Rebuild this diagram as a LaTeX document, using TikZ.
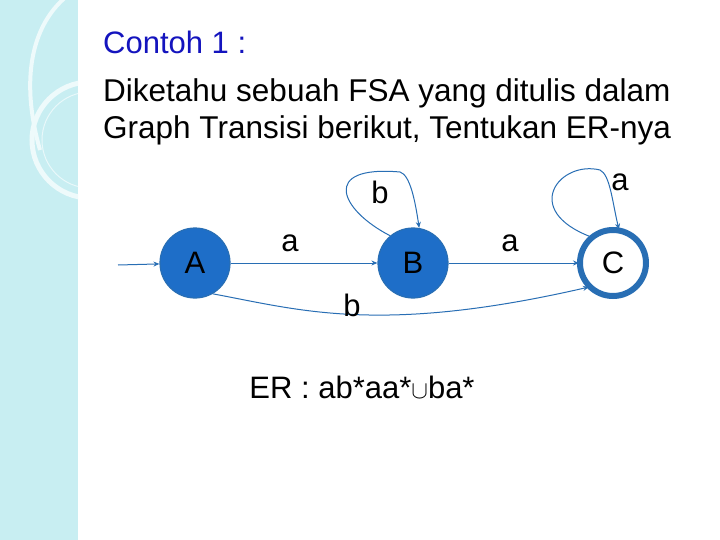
\documentclass[tikz,border=0pt]{standalone}
\usepackage{fontspec}
\setmainfont{Liberation Sans}
\usetikzlibrary{arrows.meta}
\definecolor{strip}{RGB}{200,238,242}
\definecolor{ttl}{RGB}{20,20,190}
\definecolor{st}{RGB}{30,110,200}
\definecolor{edge}{RGB}{40,110,180}
\begin{document}
\begin{tikzpicture}[x=1pt,y=-1pt,
  state/.style={circle,draw=edge,line width=1.2pt,fill=st,minimum size=70pt,inner sep=0pt,font=\fontsize{31}{34}\selectfont},
  lbl/.style={font=\fontsize{31}{34}\selectfont,inner sep=0pt},
  tr/.style={draw=edge,line width=1pt,-{Stealth[length=6pt,width=5pt]}}]
\useasboundingbox (0,0) rectangle (720,540);
\fill[white] (0,0) rectangle (720,540);
\fill[strip] (0,0) rectangle (78,540);
\begin{scope}
\clip (0,0) rectangle (78,540);
\draw[white!70!strip,line width=5pt] (90,140) circle (58);
\draw[white!60!strip,line width=1pt] (90,140) circle (48);
\draw[white!70!strip,line width=4pt] (75,-10) .. controls (30,20) and (20,80) .. (40,150);
\end{scope}
\node[anchor=west,text=ttl,font=\fontsize{31}{34}\selectfont,inner sep=0pt] (t) at (103,42) {Contoh 1 :};
\node[anchor=north west,align=left,font=\fontsize{31.5}{37}\selectfont,inner sep=0pt] (body) at (103,78) {Diketahu sebuah FSA yang ditulis dalam\\Graph Transisi berikut, Tentukan ER-nya};
\node[state] (A) at (195,263) {A};
\node[state] (B) at (413,263) {B};
\node[state,fill=white,double=edge,draw=edge,line width=2pt,double distance=2pt,minimum size=66pt] (C) at (613,263) {C};
\coordinate (s) at (118,265);
\draw[tr] (s) -- (A);
\draw[tr] (A) -- (B.west);
\draw[tr] (B) -- (C.west);
\draw[tr] (A.-60) .. controls (300,310) and (380,335) .. (C.south west);
\draw[tr] (B.130) .. controls (340,210) and (320,165) .. (400,172) .. controls (410,175) and (415,200) .. (B.80);
\draw[tr] (C.130) .. controls (520,210) and (560,160) .. (600,170) .. controls (610,175) and (612,200) .. (C.80);
\node[lbl] (la) at (290,243) {a};
\node[lbl] (lb) at (380,192) {b};
\node[lbl] (la2) at (510,243) {a};
\node[lbl] (lc) at (620,182) {a};
\node[lbl] (lb2) at (352,305) {b};
\node[lbl] (er) at (362,387) {ER : ab*aa*$\cup$ba*};
\end{tikzpicture}
\end{document}
